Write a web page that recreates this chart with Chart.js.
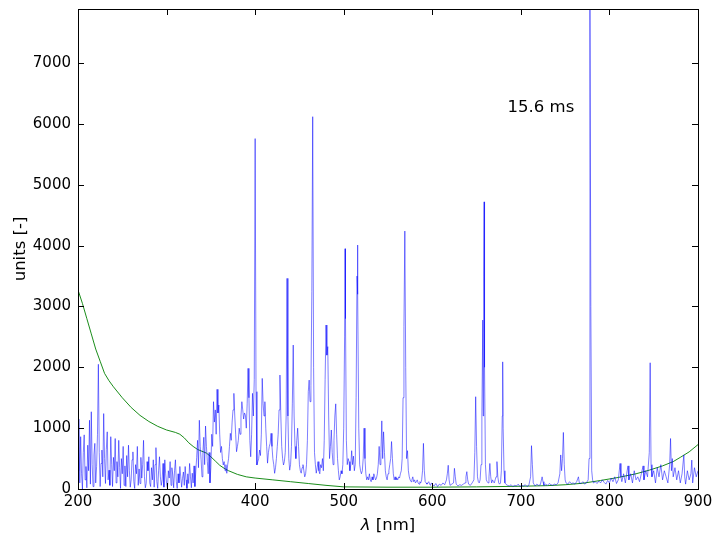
<!DOCTYPE html>
<html lang="en">
<head>
    <meta charset="UTF-8">
    <title>Spectrum</title>
    <style>
        body { margin: 0; background: #fff; }
        #wrap { width: 724px; height: 546px; }
    </style>
</head>
<body>
<div id="wrap"><canvas id="spectrumChart" width="724" height="546"></canvas></div>
<script src="https://cdn.jsdelivr.net/npm/chart.js"></script>
<script>
// measured spectrum [nm, counts]
const spectrum = [
    [200,300],[201,1150],[202,100],[203,860],[204,250],[205,0],[206,600],[207,890],[208,150],[209,370],
    [210,20],[211,720],[212,300],[213,1130],[214,80],[215,1270],[216,400],[217,40],[218,560],[219,750],
    [220,100],[221,370],[222,900],[223,2050],[224,600],[225,40],[226,420],[227,640],[228,200],[229,1240],
    [230,500],[231,90],[232,650],[233,940],[234,150],[235,310],[236,60],[237,860],[238,400],[239,40],
    [240,520],[241,300],[242,830],[243,100],[244,450],[245,200],[246,800],[247,350],[248,10],[249,500],
    [250,250],[251,700],[252,60],[253,380],[254,40],[255,550],[256,200],[257,720],[258,300],[259,30],
    [260,150],[261,480],[262,610],[263,120],[264,10],[265,400],[266,250],[267,700],[268,60],[269,330],
    [270,90],[271,520],[272,180],[273,400],[274,800],[275,200],[276,20],[277,90],[278,450],[279,300],
    [280,530],[281,100],[282,40],[283,350],[284,150],[285,480],[286,30],[287,400],[288,680],[289,120],
    [290,10],[291,300],[292,530],[293,200],[294,60],[295,150],[296,420],[297,30],[298,480],[299,250],
    [300,90],[301,10],[302,300],[303,180],[304,450],[305,60],[306,350],[307,230],[308,20],[309,300],
    [310,480],[311,120],[312,10],[313,250],[314,100],[315,370],[316,200],[317,30],[318,175],[319,280],
    [320,60],[321,370],[322,150],[323,10],[324,250],[325,90],[326,420],[327,200],[328,20],[329,260],
    [330,100],[331,380],[332,40],[333,300],[334,520],[335,800],[336,350],[337,1130],[338,700],[339,480],
    [340,200],[341,600],[342,850],[343,400],[344,1035],[345,700],[346,450],[347,250],[348,600],[349,100],
    [350,350],[351,900],[352,700],[353,1435],[354,1100],[355,1300],[356,900],[357,1638],[358,1250],[359,1380],
    [360,900],[361,600],[362,700],[363,500],[364,395],[365,450],[366,300],[367,400],[368,258],[369,400],
    [370,500],[371,700],[372,915],[373,800],[374,1100],[375,1300],[376,1572],[377,1200],[378,900],[379,613],
    [380,700],[381,800],[382,1000],[383,900],[384,1200],[385,1435],[386,1300],[387,1150],[388,1250],[389,1215],
    [390,1000],[391,1400],[392,1983],[393,1500],[394,800],[395,530],[396,900],[397,1572],[398,1200],[399,1800],
    [400,5760],[401,1600],[402,395],[403,450],[404,500],[405,640],[406,550],[407,900],[408,1818],[409,1400],
    [410,1200],[411,1435],[412,1000],[413,700],[414,425],[415,600],[416,700],[417,750],[418,915],[419,700],
    [420,500],[421,400],[422,258],[423,350],[424,500],[425,700],[426,900],[427,1300],[428,1873],[429,1200],
    [430,700],[431,500],[432,395],[433,450],[434,600],[435,1200],[436,3462],[437,1200],[438,500],[439,310],
    [440,400],[441,700],[442,1400],[443,2366],[444,1200],[445,700],[446,500],[447,800],[448,1000],[449,700],
    [450,400],[451,300],[452,260],[453,350],[454,400],[455,300],[456,200],[457,250],[458,400],[459,800],
    [460,1600],[461,1790],[462,1435],[463,1700],[464,3242],[465,6120],[466,2000],[467,600],[468,400],[469,260],
    [470,350],[471,450],[472,300],[473,250],[474,400],[475,350],[476,500],[477,300],[478,800],[479,1800],
    [480,2695],[481,2200],[482,2340],[483,1200],[484,500],[485,700],[486,970],[487,600],[488,400],[489,800],
    [490,1200],[491,1400],[492,900],[493,500],[494,300],[495,150],[496,200],[497,300],[498,250],[499,400],
    [500,1000],[501,2500],[501.5,3950],[502,2800],[503,800],[504,400],[505,500],[506,450],[507,300],[508,400],
    [509,630],[510,400],[511,540],[512,300],[513,400],[514,1500],[515,3500],[515.5,4010],[516,3200],[517,1000],
    [518,400],[519,300],[520,250],[521,300],[522,500],[523,1000],[524,500],[525,250],[526,150],[527,200],
    [528,150],[529,250],[530,150],[531,120],[532,200],[533,150],[534,250],[535,200],[536,150],[537,180],
    [538,250],[539,400],[540,700],[541,400],[542,600],[543,1120],[544,500],[545,940],[546,600],[547,300],
    [548,200],[549,150],[550,250],[551,300],[552,400],[553,500],[554,780],[555,500],[556,250],[557,150],
    [558,200],[559,150],[560,180],[561,150],[562,200],[563,180],[564,250],[565,300],[566,500],[567,1500],
    [568,2670],[569,4240],[570,2000],[571,500],[572,630],[573,300],[574,200],[575,150],[576,120],[577,150],
    [578,200],[579,120],[580,150],[581,100],[582,120],[583,150],[584,100],[585,80],[586,120],[587,100],
    [588,150],[589,300],[590,750],[591,300],[592,120],[593,100],[594,80],[595,100],[596,120],[597,80],
    [598,60],[599,100],[600,80],[602,50],[604,90],[606,40],[608,80],[610,60],[612,100],[614,70],
    [616,150],[617,250],[618,390],[619,150],[620,60],[622,80],[624,100],[625,340],[626,200],[627,80],
    [629,50],[631,70],[633,60],[635,80],[637,100],[638,200],[639,285],[640,150],[641,80],[643,60],
    [645,100],[647,150],[648,600],[649,1517],[650,700],[651,200],[652,120],[653,100],[654,150],[655,400],
    [656,1200],[657,2777],[657.5,1200],[658,3500],[658.5,4720],[659,2000],[660,400],[661,150],[662,120],[663,100],
    [664,200],[665,420],[666,200],[667,100],[668,150],[669,120],[670,100],[671,150],[672,200],[673,450],
    [674,200],[675,100],[676,80],[677,100],[678,300],[679,1200],[679.5,2090],[680,1000],[681,300],[682,100],
    [683,80],[685,60],[687,50],[689,70],[691,40],[693,60],[695,50],[697,80],[699,40],[701,60],
    [703,50],[705,70],[707,40],[709,60],[711,200],[712,712],[713,400],[714,100],[716,50],[718,80],
    [720,60],[722,70],[724,200],[725,120],[726,60],[728,80],[730,60],[732,90],[734,70],[736,60],
    [738,80],[740,70],[742,100],[744,250],[745,560],[746,300],[747,500],[748,930],[749,400],[750,150],
    [751,100],[753,80],[755,120],[757,90],[759,100],[761,80],[763,120],[765,200],[766,100],[768,90],
    [770,120],[772,80],[774,100],[776,150],[777,500],[778,7890],[779,3000],[780,300],[781,150],[782,100],
    [784,120],[786,90],[788,130],[790,100],[792,150],[794,110],[796,80],[798,140],[800,100],[802,180],
    [804,120],[806,200],[808,90],[810,150],[812,420],[813,200],[814,120],[816,250],[818,100],[820,300],
    [821,380],[822,150],[824,250],[826,100],[828,300],[830,150],[832,200],[834,120],[836,250],[838,380],
    [839,150],[841,300],[843,200],[845,600],[846,2075],[847,400],[848,200],[850,300],[852,100],[854,350],
    [856,200],[858,400],[860,150],[862,300],[864,200],[866,100],[868,400],[869,830],[870,300],[871,500],
    [872,200],[874,350],[876,150],[878,300],[880,100],[882,250],[884,560],[885,200],[886,80],[888,300],
    [890,150],[892,250],[893,475],[894,100],[896,350],[898,200],[900,300]
];

// smooth reference curve [nm, counts]
const reference = [
    [200,0],[200.5,3250],[205,3050],[210,2800],[215,2550],[220,2300],[225,2100],[230,1900],[235,1780],
    [240,1680],[250,1500],[260,1340],[270,1210],[280,1110],[290,1030],[300,970],[310,930],[315,900],
    [320,840],[325,760],[330,700],[335,650],[340,620],[345,590],[350,530],[355,460],[360,390],[365,340],
    [370,300],[380,240],[390,200],[400,180],[420,150],[440,120],[460,90],[480,60],[500,35],[550,30],
    [600,30],[650,35],[700,45],[730,55],[750,70],[770,95],[790,140],[810,190],[830,250],[845,310],
    [860,380],[872,450],[880,520],[890,610],[900,730]
];

const xTicks = [200, 300, 400, 500, 600, 700, 800, 900];
const yTicks = [0, 1000, 2000, 3000, 4000, 5000, 6000, 7000];
const xMin = 200, xMax = 900;
const yMin = 0, yMax = 7890;
const annotation = { text: "15.6 ms", x: 685, y: 6200 };
const FONT = "DejaVu Sans";
const LABEL_PX = 16.5;

const toPoints = arr => arr.map(p => ({ x: p[0], y: p[1] }));

// inside ticks on all four sides, box, labels, annotation
const frame = {
    id: "frame",
    afterDraw(chart) {
        const ctx = chart.ctx;
        const a = chart.chartArea;
        const xs = chart.scales.x, ys = chart.scales.y;
        ctx.save();
        ctx.strokeStyle = "#000";
        ctx.lineWidth = 1;
        ctx.beginPath();
        xs.ticks.forEach(t => {
            const px = Math.round(xs.getPixelForValue(t.value)) + 0.5;
            ctx.moveTo(px, a.bottom); ctx.lineTo(px, a.bottom - 6);
            ctx.moveTo(px, a.top); ctx.lineTo(px, a.top + 6);
        });
        ys.ticks.forEach(t => {
            const py = Math.round(ys.getPixelForValue(t.value)) + 0.5;
            ctx.moveTo(a.left, py); ctx.lineTo(a.left + 6, py);
            ctx.moveTo(a.right, py); ctx.lineTo(a.right - 6, py);
        });
        ctx.stroke();
        ctx.strokeRect(Math.round(a.left) + 0.5, Math.round(a.top) + 0.5,
            Math.round(a.right - a.left), Math.round(a.bottom - a.top));

        const plain = LABEL_PX + "px '" + FONT + "'";
        const italic = "italic " + plain;
        ctx.fillStyle = "#000";
        ctx.font = plain;
        ctx.textAlign = "left";
        ctx.textBaseline = "alphabetic";
        ctx.fillText(annotation.text, xs.getPixelForValue(annotation.x), ys.getPixelForValue(annotation.y));

        // x label: italic lambda + [nm]
        const cx = (a.left + a.right) / 2;
        const lam = "\u03bb", rest = " [nm]";
        ctx.font = italic;
        const w1 = ctx.measureText(lam).width;
        ctx.font = plain;
        const w2 = ctx.measureText(rest).width;
        const sx = cx - (w1 + w2) / 2;
        ctx.font = italic;
        ctx.fillText(lam, sx, 530);
        ctx.font = plain;
        ctx.fillText(rest, sx + w1, 530);

        // y label
        ctx.translate(25, (a.top + a.bottom) / 2);
        ctx.rotate(-Math.PI / 2);
        ctx.textAlign = "center";
        ctx.fillText("units [-]", 0, 0);
        ctx.restore();
    }
};

new Chart(document.getElementById("spectrumChart"), {
    type: "line",
    data: {
        datasets: [
            {
                data: toPoints(spectrum),
                borderColor: "rgba(0,0,255,0.85)",
                borderWidth: 0.6,
                pointRadius: 0,
                tension: 0,
                fill: false
            },
            {
                data: toPoints(reference),
                borderColor: "#008000",
                borderWidth: 0.9,
                pointRadius: 0,
                tension: 0,
                fill: false
            }
        ]
    },
    options: {
        responsive: false,
        animation: false,
        devicePixelRatio: 1,
        layout: { padding: { top: 9, right: 26, left: 0, bottom: 0 } },
        plugins: { legend: { display: false }, tooltip: { enabled: false } },
        scales: {
            x: {
                type: "linear",
                min: xMin, max: xMax,
                grid: { display: false, drawTicks: false },
                border: { display: false },
                ticks: { padding: 4, color: "#000", font: { family: FONT, size: 15 }, maxRotation: 0, autoSkip: false,
                    callback: v => String(v) },
                afterBuildTicks: s => { s.ticks = xTicks.map(v => ({ value: v })); },
                afterFit: s => { s.height = 57; }
            },
            y: {
                type: "linear",
                min: yMin, max: yMax,
                grid: { display: false, drawTicks: false },
                border: { display: false },
                ticks: { padding: 7, color: "#000", font: { family: FONT, size: 15 }, autoSkip: false,
                    callback: v => String(v) },
                afterBuildTicks: s => { s.ticks = yTicks.map(v => ({ value: v })); },
                afterFit: s => { s.width = 78; s.paddingTop = 0; }
            }
        }
    },
    plugins: [frame]
});
</script>
</body>
</html>
